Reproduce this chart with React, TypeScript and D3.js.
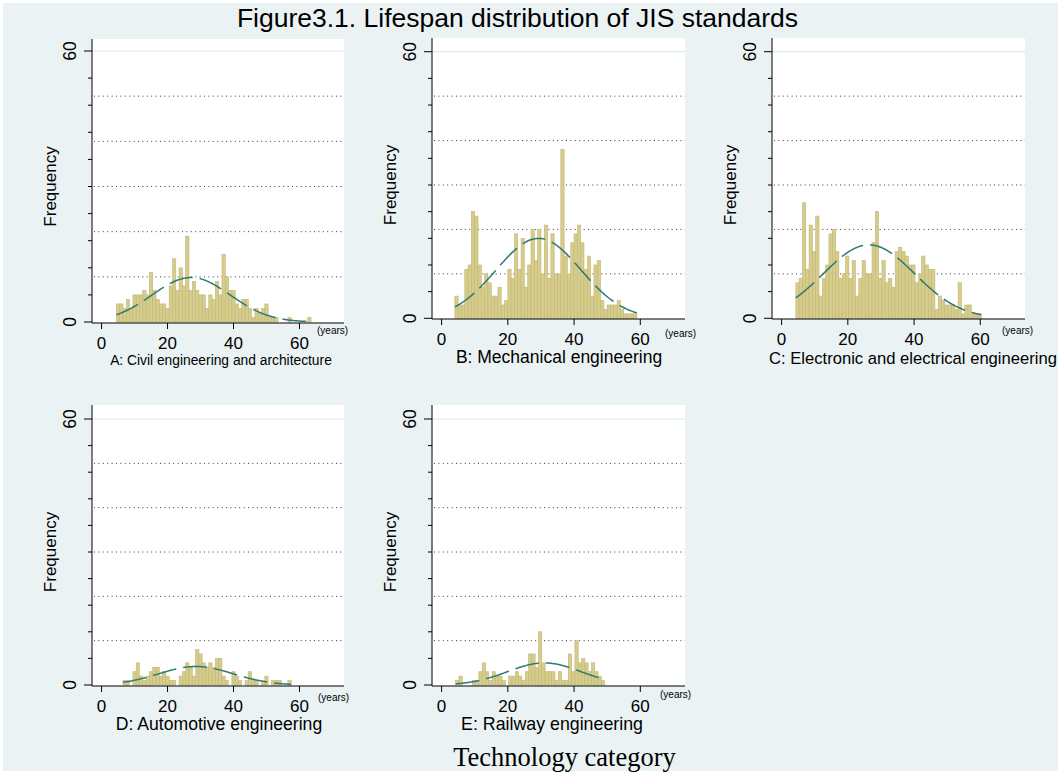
import * as d3 from "d3";

const W = 1062;
const H = 774;

// panel captions
const panelLabels = [
  "A: Civil engineering and architecture",
  "B: Mechanical engineering",
  "C: Electronic and electrical engineering",
  "D: Automotive engineering",
  "E: Railway engineering",
];

// left edge (years) of the first 1-year bin of each histogram
const firstBinStart = [4.5, 4.0, 4.3, 6.5, 4.25];

// frequency per 1-year bin
const civilCounts = [4, 4, 3, 5, 3, 6, 6, 6, 7, 6, 11, 7, 5, 4, 4, 3, 8, 14, 7, 12, 8, 19, 7, 9, 7, 6, 6, 3, 6, 5, 9, 6, 15, 10, 7, 7, 4, 3, 5, 5, 3, 1, 3, 2, 3, 4, 1, 1, 1, 0, 0, 0, 1, 0, 0, 0, 0, 0, 1];
const mechanicalCounts = [5, 3, 3, 11, 12, 24, 23, 12, 7, 10, 8, 5, 5, 7, 3, 4, 11, 9, 19, 11, 18, 7, 12, 20, 13, 20, 10, 21, 9, 19, 10, 10, 38, 14, 10, 17, 19, 21, 17, 11, 14, 5, 12, 13, 4, 2, 3, 3, 3, 4, 2, 1, 1, 1, 1];
const electricalCounts = [8, 9, 26, 11, 21, 15, 23, 5, 9, 12, 19, 20, 15, 9, 10, 14, 9, 13, 5, 9, 13, 10, 10, 17, 24, 9, 13, 8, 9, 7, 15, 16, 15, 14, 12, 12, 8, 10, 14, 12, 11, 11, 2, 5, 4, 3, 3, 3, 2, 8, 1, 3, 3, 1, 1, 1];
const automotiveCounts = [1, 1, 0, 3, 5, 2, 1, 2, 3, 4, 4, 2, 3, 2, 1, 1, 0, 2, 3, 5, 4, 2, 8, 7, 5, 4, 5, 4, 6, 6, 2, 1, 0, 3, 2, 1, 0, 1, 3, 1, 1, 0, 1, 2, 0, 1, 1, 1, 0, 0, 1];
const railwayCounts = [1, 2, 0, 0, 0, 1, 1, 3, 5, 3, 1, 3, 2, 2, 1, 0, 2, 2, 3, 2, 1, 3, 7, 7, 4, 12, 5, 3, 3, 3, 1, 3, 1, 1, 7, 3, 10, 5, 6, 5, 3, 5, 3, 2, 1];

const xTicks = [0, 20, 40, 60];
const yLabelTicks = [0, 60];
const yGridValues = [10, 20, 30, 40, 50];
const yMinorTicks = [6, 12, 18, 24, 30, 36, 42, 48, 54];
const xDomain = [-2.9, 73.5];

// where each plot region sits on the page
const frames = [
  { left: 92, right: 344, top: 39, bottom: 323, y0: 322, y60: 51, labelX: 221, labelY: 365, labelSize: 13.8, yearsX: 317, yearsY: 334 },
  { left: 432, right: 685, top: 38, bottom: 319, y0: 318.3, y60: 51.7, labelX: 559, labelY: 363, labelSize: 17.5, yearsX: 665, yearsY: 337 },
  { left: 772, right: 1025, top: 38, bottom: 319, y0: 318.3, y60: 51.7, labelX: 913, labelY: 364, labelSize: 16.6, yearsX: 1002, yearsY: 334 },
  { left: 92, right: 344, top: 405, bottom: 686, y0: 685, y60: 419, labelX: 219, labelY: 730, labelSize: 17.6, yearsX: 318, yearsY: 701 },
  { left: 432, right: 685, top: 405, bottom: 686, y0: 685, y60: 419, labelX: 552, labelY: 730, labelSize: 17.8, yearsX: 660, yearsY: 698 },
];

const BAR_FILL = "#d6cc8c";
const BAR_STROKE = "#c2b774";
const CURVE = "#2e7b74";

function Panel({ counts, start, label, f }) {
  const x = d3.scaleLinear().domain(xDomain).range([f.left, f.right]);
  const y = d3.scaleLinear().domain([0, 60]).range([f.y0, f.y60]);

  const bins = counts.map((c, i) => ({ x0: start + i, x1: start + i + 1, c }));
  const n = d3.sum(counts);
  const mean = d3.sum(bins, (b) => (b.c * (b.x0 + b.x1)) / 2) / n;
  const sd = Math.sqrt(d3.sum(bins, (b) => b.c * ((b.x0 + b.x1) / 2 - mean) ** 2) / (n - 1));
  const lo = start;
  const hi = start + counts.length;
  const pts = d3.range(0, 121).map((k) => {
    const v = lo + ((hi - lo) * k) / 120;
    return [v, (n * Math.exp(-0.5 * ((v - mean) / sd) ** 2)) / (sd * Math.sqrt(2 * Math.PI))];
  });
  const line = d3.line().x((d) => x(d[0])).y((d) => y(d[1]));

  return (
    <g>
      <rect x={f.left} y={f.top} width={f.right - f.left} height={f.bottom - f.top} fill="#fff" />
      <line x1={f.left} x2={f.right} y1={y(60)} y2={y(60)} stroke="#dbe5e7" strokeWidth={1} />
      {yGridValues.map((v) => (
        <line key={v} x1={f.left + 2} x2={f.right} y1={y(v)} y2={y(v)} stroke="#3a3a3a" strokeWidth={1} strokeDasharray="1 3.4" />
      ))}
      {bins.filter((b) => b.c > 0).map((b, i) => (
        <rect
          key={i}
          x={x(b.x0)}
          y={y(b.c)}
          width={x(b.x1) - x(b.x0)}
          height={y(0) - y(b.c)}
          fill={BAR_FILL}
          stroke={BAR_STROKE}
          strokeWidth={0.6}
        />
      ))}
      <path d={line(pts)} fill="none" stroke={CURVE} strokeWidth={1.5} strokeDasharray="24 7" />

      {/* axes */}
      <line x1={f.left} x2={f.left} y1={f.top} y2={f.bottom} stroke="#000" strokeWidth={1} />
      <line x1={f.left} x2={f.right} y1={f.bottom} y2={f.bottom} stroke="#000" strokeWidth={1} />
      {yLabelTicks.map((v) => (
        <g key={v}>
          <line x1={f.left - 8} x2={f.left} y1={y(v)} y2={y(v)} stroke="#000" />
          <text transform={`translate(${f.left - 16},${y(v)}) rotate(-90)`} textAnchor="middle" fontSize={17.5}>
            {v}
          </text>
        </g>
      ))}
      {yMinorTicks.map((v) => (
        <line key={v} x1={f.left - 4} x2={f.left} y1={y(v)} y2={y(v)} stroke="#000" />
      ))}
      <text transform={`translate(${f.left - 36},${(y(0) + y(60)) / 2}) rotate(-90)`} textAnchor="middle" fontSize={17}>
        Frequency
      </text>
      {xTicks.map((v) => (
        <g key={v}>
          <line x1={x(v)} x2={x(v)} y1={f.bottom} y2={f.bottom + 6} stroke="#000" />
          <text x={x(v)} y={f.bottom + 25.5} textAnchor="middle" fontSize={17}>
            {v}
          </text>
        </g>
      ))}
      <text x={f.yearsX} y={f.yearsY} fontSize={10}>
        (years)
      </text>
      <text x={f.labelX} y={f.labelY} textAnchor="middle" fontSize={f.labelSize}>
        {label}
      </text>
    </g>
  );
}

export default function App() {
  const series = [civilCounts, mechanicalCounts, electricalCounts, automotiveCounts, railwayCounts];
  return (
    <svg
      width={W}
      height={H}
      style={{ position: "absolute", left: 0, top: 0 }}
      fontFamily="'Liberation Sans', Arial, sans-serif"
    >
      <rect width={W} height={H} fill="#fff" />
      <rect x={3} y={3} width={1055} height={768} fill="#eaf2f3" />
      <text x={517.5} y={27} textAnchor="middle" fontSize={26.5}>
        Figure3.1. Lifespan distribution of JIS standards
      </text>
      {series.map((counts, i) => (
        <Panel key={i} counts={counts} start={firstBinStart[i]} label={panelLabels[i]} f={frames[i]} />
      ))}
      <text x={564.5} y={766} textAnchor="middle" fontFamily="'Liberation Serif', 'Times New Roman', serif" fontSize={26.5}>
        Technology category
      </text>
    </svg>
  );
}
